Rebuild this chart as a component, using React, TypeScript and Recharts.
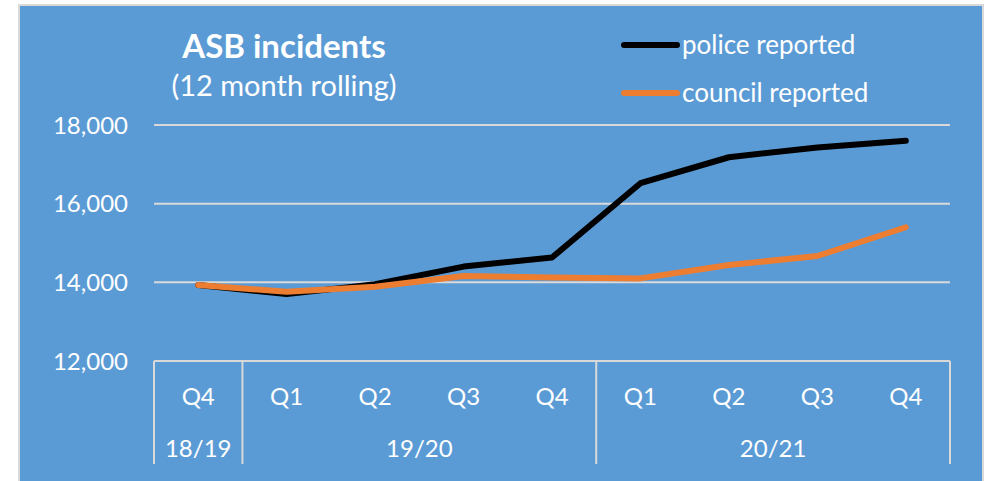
import React from 'react';
import { LineChart, Line, XAxis, YAxis, CartesianGrid } from 'recharts';

const quarters = ['Q4', 'Q1', 'Q2', 'Q3', 'Q4', 'Q1', 'Q2', 'Q3', 'Q4'];
const years = ['18/19', '19/20', '19/20', '19/20', '19/20', '20/21', '20/21', '20/21', '20/21'];
const police = [13930, 13700, 13950, 14400, 14630, 16520, 17180, 17430, 17600];
const council = [13930, 13760, 13890, 14160, 14120, 14100, 14440, 14670, 15400];
const yTicks = [12000, 14000, 16000, 18000];
const seriesNames = ['police reported', 'council reported'];
const seriesColors = ['#000000', '#ED7D31'];

const data = quarters.map((q, i) => ({
  key: `${years[i]}-${q}-${i}`,
  police: police[i],
  council: council[i],
}));

const W = 986;
const H = 481;
const MARGIN = { top: 125, right: 36, bottom: 0, left: 0 };
const Y_W = 154;
const X_H = 120;
const PLOT_W = W - MARGIN.left - MARGIN.right - Y_W;
const BAND = PLOT_W / quarters.length;
const FONT = 'Lato, "Open Sans", sans-serif';
const GRID = '#D9D9D9';
const TICK_FS = 24;

const XTick = (props: any) => {
  const { x, y, payload } = props;
  const i = payload.index;
  const isStart = i === 0 || years[i] !== years[i - 1];
  const isLast = i === quarters.length - 1;
  let groupLen = 0;
  if (isStart) {
    let j = i;
    while (j < years.length && years[j] === years[i]) j++;
    groupLen = j - i;
  }
  return (
    <g>
      <text x={x} y={y + 34} textAnchor="middle" dominantBaseline="central" fill="#fff" fontSize={TICK_FS} fontFamily={FONT}>
        {quarters[i]}
      </text>
      {isStart && (
        <text x={x + ((groupLen - 1) / 2) * BAND} y={y + 86} textAnchor="middle" dominantBaseline="central" fill="#fff" fontSize={TICK_FS} fontFamily={FONT}>
          {years[i]}
        </text>
      )}
      {isStart && <line x1={x - BAND / 2} x2={x - BAND / 2} y1={y} y2={y + 103} stroke={GRID} strokeWidth={2} />}
      {isLast && <line x1={x + BAND / 2} x2={x + BAND / 2} y1={y} y2={y + 103} stroke={GRID} strokeWidth={2} />}
    </g>
  );
};

export default function App() {
  return (
    <div style={{ position: 'absolute', left: 0, top: 0, width: W, height: H, background: '#fff', overflow: 'hidden' }}>
      <div
        style={{
          position: 'absolute',
          left: 18,
          top: 4,
          width: 966,
          height: 500,
          boxSizing: 'border-box',
          border: '2px solid #D9D9D9',
          background: '#5B9BD5',
        }}
      />
      <div style={{ position: 'absolute', left: 0, top: 0 }}>
        <LineChart width={W} height={H} data={data} margin={MARGIN}>
          <CartesianGrid horizontal vertical={false} stroke={GRID} strokeWidth={2} />
          <XAxis
            dataKey="key"
            height={X_H}
            padding={{ left: BAND / 2, right: BAND / 2 }}
            axisLine={{ stroke: GRID, strokeWidth: 2 }}
            tickLine={false}
            tickSize={0}
            tickMargin={0}
            interval={0}
            tick={<XTick />}
          />
          <YAxis
            domain={[12000, 18000]}
            ticks={yTicks}
            width={Y_W}
            axisLine={false}
            tickLine={false}
            tickSize={0}
            tickMargin={26}
            tickFormatter={(v: number) => v.toLocaleString('en-US')}
            tick={{ fill: '#fff', fontSize: TICK_FS, fontFamily: FONT }}
          />
          <Line type="linear" dataKey="police" name={seriesNames[0]} stroke={seriesColors[0]} strokeWidth={6} strokeLinecap="round" strokeLinejoin="round" dot={false} isAnimationActive={false} />
          <Line type="linear" dataKey="council" name={seriesNames[1]} stroke={seriesColors[1]} strokeWidth={6} strokeLinecap="round" strokeLinejoin="round" dot={false} isAnimationActive={false} />
        </LineChart>
      </div>
      <div style={{ position: 'absolute', left: 620, top: 21 }}>
        {seriesNames.map((name, k) => (
          <div key={k} style={{ display: 'flex', alignItems: 'center', height: 48 }}>
            <svg width={62} height={10} style={{ display: 'block' }}>
              <line x1={4} x2={57} y1={5} y2={5} stroke={seriesColors[k]} strokeWidth={6} strokeLinecap="round" />
            </svg>
            <span style={{ color: '#fff', fontSize: 26, fontFamily: FONT, lineHeight: '26px', marginTop: -2 }}>{name}</span>
          </div>
        ))}
      </div>
      <div style={{ position: 'absolute', left: 134, width: 300, top: 25, textAlign: 'center', color: '#fff', fontFamily: FONT }}>
        <div style={{ fontSize: 33, fontWeight: 700, lineHeight: '40px' }}>ASB incidents</div>
        <div style={{ fontSize: 29, lineHeight: '40px' }}>(12 month rolling)</div>
      </div>
    </div>
  );
}
